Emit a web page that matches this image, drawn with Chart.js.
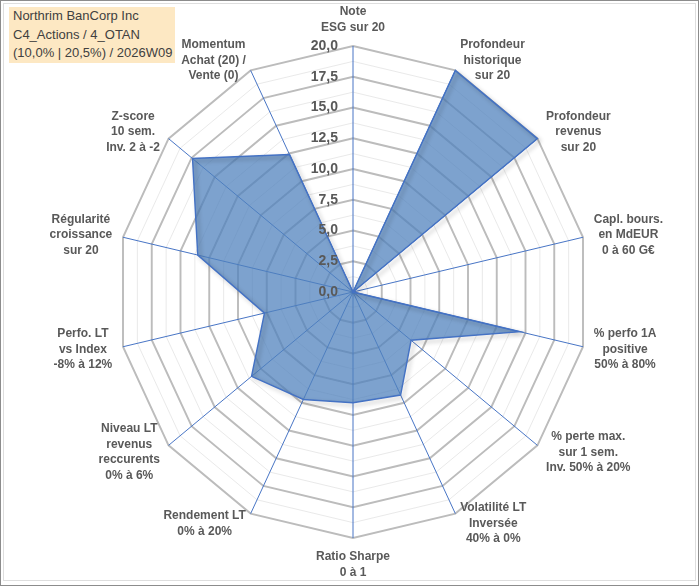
<!DOCTYPE html>
<html>
<head>
<meta charset="utf-8">
<script src="https://cdn.jsdelivr.net/npm/chart.js@4.4.1/dist/chart.umd.min.js"></script>
<style>
  html, body { margin:0; padding:0; background:#fff; }
  #wrap { position:relative; width:700px; height:587px; overflow:hidden; }
  #c { position:absolute; left:0; top:0; }
  #frame { position:absolute; left:0; top:0; width:697px; height:584px; border:1px solid #8c8c8c; pointer-events:none; }
  #inner { position:absolute; left:3px; top:3px; width:691px; height:576px; border:1px solid #dedede; pointer-events:none; }
  #title { position:absolute; left:9px; top:7px; width:166px; height:56px; background:#FDE8C3;
           font-family:"Liberation Sans", Arial, sans-serif; font-size:13px; line-height:18.5px; color:#404040;
           padding:0 0 0 4px; box-sizing:border-box; }
</style>
</head>
<body>
<div id="wrap">
  <canvas id="c" width="700" height="587"></canvas>
  <div id="frame"></div>
  <div id="inner"></div>
  <div id="title">Northrim BanCorp Inc<br>C4_Actions / 4_OTAN<br>(10,0% | 20,5%) / 2026W09</div>
</div>
<script>
const categories = [
  ["Note", "ESG sur 20"],
  ["Profondeur", "historique", "sur 20"],
  ["Profondeur", "revenus", "sur 20"],
  ["Capl. bours.", "en MdEUR", "0 à 60 G€"],
  ["% perfo 1A", "positive", "50% à 80%"],
  ["% perte max.", "sur 1 sem.", "Inv. 50% à 20%"],
  ["Volatilité LT", "Inversée", "40% à 0%"],
  ["Ratio Sharpe", "0 à 1"],
  ["Rendement LT", "0% à 20%"],
  ["Niveau LT", "revenus", "reccurents", "0% à 6%"],
  ["Perfo. LT", "vs Index", "-8% à 12%"],
  ["Régularité", "croissance", "sur 20"],
  ["Z-score", "10 sem.", "Inv. 2 à -2"],
  ["Momentum", "Achat (20) /", "Vente (0)"]
];
const scores = [0, 20, 20, 0, 14.5, 6.3, 9.3, 9.0, 9.7, 11.0, 7.7, 13.5, 17.4, 12.4];
const tickValues = [0, 2.5, 5, 7.5, 10, 12.5, 15, 17.5, 20];
const tickLabels = ["0,0", "2,5", "5,0", "7,5", "10,0", "12,5", "15,0", "17,5", "20,0"];

const FONT = '"Liberation Sans", Arial, sans-serif';
const LABEL_COLOR = '#595959';
const PL_SIZE = 12, PL_LH = 15.5, GAP = 11;
const SX = 0.959; // horizontal squeeze of the plot (reference is slightly elliptical)

const overlay = {
  id: 'overlay',
  beforeDraw(chart) {
    const ctx = chart.ctx, s = chart.scales.r;
    ctx.save();
    ctx.translate(s.xCenter, 0);
    ctx.scale(SX, 1);
    ctx.translate(-s.xCenter, 0);
  },
  beforeDatasetDraw(chart) {
    // runs after the filler has painted the area: shadow only on the outline
    const ctx = chart.ctx;
    ctx.save();
    ctx.shadowColor = 'rgba(0,0,0,0.3)';
    ctx.shadowBlur = 4;
    ctx.shadowOffsetX = 2.5;
    ctx.shadowOffsetY = 2.5;
  },
  afterDatasetDraw(chart) {
    chart.ctx.restore();
  },
  afterDraw(chart) {
    const ctx = chart.ctx, s = chart.scales.r;
    ctx.restore();
    const xc = s.xCenter;
    ctx.save();
    ctx.fillStyle = LABEL_COLOR;
    // radial tick labels
    ctx.font = 'bold 14px ' + FONT;
    ctx.textAlign = 'right';
    ctx.textBaseline = 'middle';
    tickValues.forEach((v, i) => {
      const y = s.yCenter - s.getDistanceFromCenterForValue(v);
      ctx.fillText(tickLabels[i], xc - 15, y);
    });
    // category labels, placed beside each axis end
    ctx.font = 'bold ' + PL_SIZE + 'px ' + FONT;
    ctx.textAlign = 'center';
    const R = s.drawingArea;
    categories.forEach((lines, i) => {
      const p = s.getPointPosition(i, R);
      const vx = xc + (p.x - xc) * SX, vy = p.y;
      const a = s.getIndexAngle(i);
      const ux = Math.sin(a), uy = -Math.cos(a);
      const px = vx + ux * GAP, py = vy + uy * GAP;
      const h = lines.length * PL_LH;
      const w = Math.max(...lines.map(t => ctx.measureText(t).width));
      let cx, top;
      if (Math.abs(ux) < 0.05) { cx = px; top = uy < 0 ? py - h : py; }
      else { cx = ux > 0 ? px + w / 2 : px - w / 2; top = py - h / 2; }
      lines.forEach((t, k) => ctx.fillText(t, cx, top + PL_LH / 2 + k * PL_LH));
    });
    ctx.restore();
  }
};

new Chart(document.getElementById('c'), {
  type: 'radar',
  data: {
    labels: categories,
    datasets: [{
      data: scores,
      backgroundColor: 'rgba(79,129,189,0.74)',
      borderColor: '#4472C4',
      borderWidth: 1.5,
      pointRadius: 0,
      pointHoverRadius: 0,
      fill: true,
      tension: 0
    }]
  },
  options: {
    responsive: false,
    animation: false,
    devicePixelRatio: 1,
    layout: { padding: { top: 46, bottom: 49, left: 53, right: 47 } },
    plugins: { legend: { display: false }, tooltip: { enabled: false } },
    scales: {
      r: {
        min: 0, max: 20,
        ticks: { stepSize: 1.25, display: false },
        grid: {
          circular: false,
          color: c => (c.index % 2 === 0 ? '#bcbcbc' : '#e8e8e8'),
          lineWidth: c => (c.index % 2 === 0 ? 2 : 1)
        },
        angleLines: { color: '#4472C4', lineWidth: 1 },
        pointLabels: { display: false }
      }
    }
  },
  plugins: [overlay]
});
</script>
</body>
</html>
